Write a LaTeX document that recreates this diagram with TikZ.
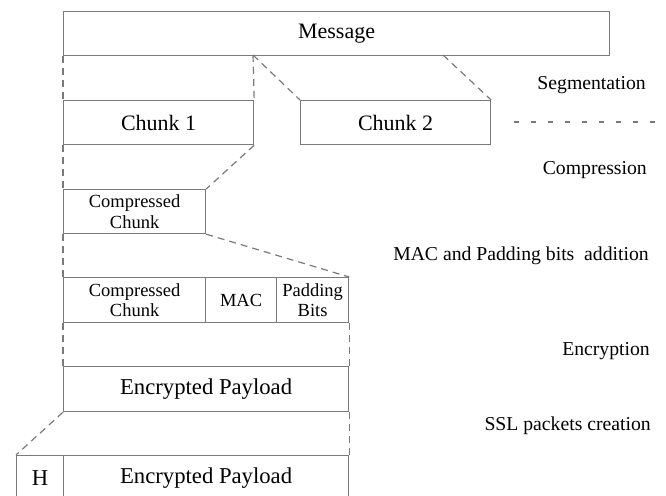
\documentclass[tikz,border=0pt]{standalone}
\usepackage{fontspec}
\setmainfont{Liberation Serif}
\definecolor{linegray}{gray}{0.48}
\tikzset{
  blk/.style={draw=linegray, line width=1.2pt, anchor=north west, inner sep=0pt,
    align=center, minimum height=44pt, font=\fontsize{22}{24}\selectfont},
  blksmall/.style={blk, font=\fontsize{18.5}{20.5}\selectfont},
  blkbig/.style={blk, minimum height=45pt, font=\fontsize{22.7}{25}\selectfont},
  seg/.style={draw=linegray, line width=1.2pt, dash pattern=on 7pt off 5pt},
  stage/.style={anchor=east, inner sep=0pt, font=\fontsize{19.7}{22}\selectfont}
}
\begin{document}
\begin{tikzpicture}[x=1pt, y=-1pt]
    \useasboundingbox (0,0) rectangle (666,495);

    %message and chunks
    \node[blk, minimum width=546pt] (msg) at (63,11) {Message};
    \node[blk, minimum width=190pt] (chunk1) at (63,100) {Chunk 1};
    \node[blk, minimum width=190pt] (chunk2) at (300,100) {Chunk 2};
    \coordinate (cut1) at (253,55);
    \coordinate (cut2) at (443,55);
    \coordinate (moreA) at (514,122);
    \coordinate (moreB) at (656,122);

    %compressed chunk
    \node[blksmall, minimum width=142pt] (comp) at (63,189) {Compressed\\Chunk};

    %MAC and padding
    \node[blksmall, minimum width=142pt, minimum height=45pt] (comp2) at (63,277) {Compressed\\Chunk};
    \node[blksmall, minimum width=71pt, minimum height=45pt] (mac) at (205,277) {MAC};
    \node[blksmall, minimum width=72pt, minimum height=45pt] (pad) at (276,277) {Padding\\Bits};

    %encryption
    \node[blkbig, minimum width=285pt] (enc) at (63,366) {Encrypted Payload};

    %SSL packet
    \node[blkbig, minimum width=47pt] (hdr) at (16,455) {H};
    \node[blkbig, minimum width=285pt] (pay) at (63,455) {Encrypted Payload};

    %stage labels
    \node[stage] (lseg) at (646,85) {Segmentation};
    \node[stage] (lcomp) at (647,170) {Compression};
    \node[stage] (lmac) at (649,256) {MAC and Padding bits\ \ addition};
    \node[stage] (lenc) at (650,351) {Encryption};
    \node[stage] (lssl) at (651,426) {SSL packets creation};

    %dashed guides
    \draw[seg] (msg.south west) -- (chunk1.north west);
    \draw[seg] (cut1) -- (chunk1.north east);
    \draw[seg] (cut1) -- (chunk2.north west);
    \draw[seg] (cut2) -- (chunk2.north east);
    \draw[seg] (chunk1.south west) -- (comp.north west);
    \draw[seg] (chunk1.south east) -- (comp.north east);
    \draw[seg] (comp.south west) -- (comp2.north west);
    \draw[seg] (comp.south east) -- (pad.north east);
    \draw[seg] (comp2.south west) -- (enc.north west);
    \draw[seg] (pad.south east) -- (enc.north east);
    \draw[seg] (enc.south west) -- (hdr.north west);
    \draw[seg] (enc.south east) -- (pay.north east);
    \draw[linegray, line width=2pt, dash pattern=on 5pt off 12pt] (moreA) -- (moreB);
\end{tikzpicture}
\end{document}
